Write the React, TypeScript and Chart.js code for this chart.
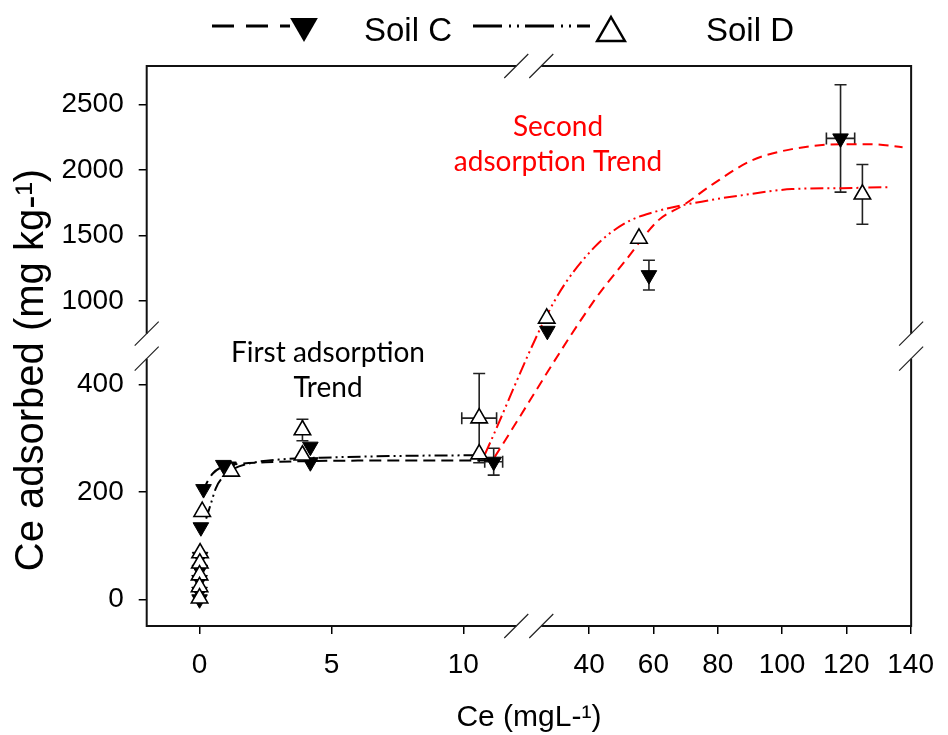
import React, { useEffect, useRef } from "react";
import { Chart, registerables } from "chart.js";

Chart.register(...registerables);

// ---------- axis ticks ----------
const xTickValues = [0, 5, 10, 40, 60, 80, 100, 120, 140];
const yTickValues = [0, 200, 400, 1000, 1500, 2000, 2500];

// ---------- Soil C measurements (filled, point-down triangles) ----------
const soilCX = [0.15, 0.05, 0.02, 0.01, 0.0, 0.0, 0.0, 0.9, 1.1, 4.2, 4.2, 11.15, 27.0, 58.6, 118.2];
const soilCY = [205, 134, 79, 55, 36, 14, 0, 250, 247, 284, 255, 256, 771, 1196, 2240];
const soilCYErr = [0, 0, 0, 0, 0, 0, 0, 0, 0, 0, 0, 25, 0, 114, 410];
const soilCXErr = [0, 0, 0, 0, 0, 0, 0, 0, 0, 0, 0, 0.34, 0, 0, 4.4];

// ---------- Soil D measurements (open triangles) ----------
const soilDX = [0.1, 0.02, 0.01, 0.0, 0.0, 0.0, 1.2, 3.9, 3.9, 10.6, 10.6, 26.8, 55.5, 125];
const soilDY = [163, 86, 67, 45, 23, 2, 238, 315, 268, 337, 270, 866, 1476, 1813];
const soilDYErr = [0, 0, 0, 0, 0, 0, 0, 20, 0, 83, 0, 0, 0, 228];
const soilDXErr = [0, 0, 0, 0, 0, 0, 0, 0, 0, 0.66, 0, 0, 0, 0];

// ---------- fitted trends ----------
const fitC1X = [0.12, 0.3, 0.5, 0.85, 1.5, 2.5, 4, 6, 8, 10, 11.15];
const fitC1Y = [200, 219, 234, 246, 252, 255, 257, 258, 258, 258, 258];
const fitD1X = [0.25, 0.43, 0.62, 0.9, 1.3, 2, 3, 5, 8, 10.6];
const fitD1Y = [150, 178, 207, 228, 243, 254, 260, 264, 267, 268];
const fitC2X = [11.19, 41.66, 50.9, 61.6, 69.3, 78.5, 90.8, 103.1, 118.5, 127.7, 137.5];
const fitC2Y = [265, 1005, 1295, 1616, 1730, 1891, 2074, 2158, 2196, 2196, 2173];
const fitD2X = [10.82, 29.37, 41.66, 51.8, 60.1, 72.4, 87.8, 103.1, 118.5, 133.3];
const fitD2Y = [270, 1005, 1410, 1601, 1677, 1746, 1807, 1853, 1860, 1868];

// ---------- broken-axis mapping ----------
const X_LOW_END = 12.48;
const X_HIGH_START = 21.22;
const X_HIGH_SCALE = 0.12187;
const Y_LOW_END = 471;
const Y_HIGH_START = 654;
const Y_HIGH_SCALE = 0.2437;

const mapX = (x: number) =>
  x <= X_LOW_END ? x : x >= X_HIGH_START ? X_LOW_END + (x - X_HIGH_START) * X_HIGH_SCALE : X_LOW_END;
const mapY = (y: number) =>
  y <= Y_LOW_END ? y : y >= Y_HIGH_START ? Y_LOW_END + (y - Y_HIGH_START) * Y_HIGH_SCALE : Y_LOW_END;

const toPoints = (xs: number[], ys: number[]) => xs.map((x, i) => ({ x: mapX(x), y: mapY(ys[i]) }));

const TICK_FONT = { family: '"Liberation Sans Narrow", "Liberation Sans", Arial, sans-serif', size: 28 };
const TITLE_FONT = { family: '"Liberation Sans", Arial, sans-serif', size: 30, lineHeight: 1 };
const Y_TITLE_FONT = '40px "Liberation Sans", Arial, sans-serif';
const NOTE_FONT = "28px Lato, 'Open Sans', sans-serif";
const RED = "#ff0000";

function triangle(ctx: CanvasRenderingContext2D, cx: number, cy: number, r: number, down: boolean) {
  const s = down ? -1 : 1;
  ctx.beginPath();
  ctx.moveTo(cx, cy - s * r);
  ctx.lineTo(cx + r * 0.866, cy + s * r * 0.5);
  ctx.lineTo(cx - r * 0.866, cy + s * r * 0.5);
  ctx.closePath();
}

const errorBarPlugin = {
  id: "errorBars",
  beforeDatasetsDraw(chart: any) {
    const { ctx, scales } = chart;
    const xs = scales.x;
    const ys = scales.y;
    const groups = [
      [soilCX, soilCY, soilCXErr, soilCYErr],
      [soilDX, soilDY, soilDXErr, soilDYErr],
    ];
    ctx.save();
    ctx.strokeStyle = "#222";
    ctx.lineWidth = 1.6;
    for (const [gx, gy, ex, ey] of groups) {
      gx.forEach((xv: number, i: number) => {
        const yv = gy[i];
        const px = xs.getPixelForValue(mapX(xv));
        const py = ys.getPixelForValue(mapY(yv));
        if (ey[i] > 0) {
          const t = ys.getPixelForValue(mapY(yv + ey[i]));
          const b = ys.getPixelForValue(mapY(yv - ey[i]));
          ctx.beginPath();
          ctx.moveTo(px, t);
          ctx.lineTo(px, b);
          ctx.moveTo(px - 6, t);
          ctx.lineTo(px + 6, t);
          ctx.moveTo(px - 6, b);
          ctx.lineTo(px + 6, b);
          ctx.stroke();
        }
        if (ex[i] > 0) {
          const l = xs.getPixelForValue(mapX(xv - ex[i]));
          const r = xs.getPixelForValue(mapX(xv + ex[i]));
          ctx.beginPath();
          ctx.moveTo(l, py);
          ctx.lineTo(r, py);
          ctx.moveTo(l, py - 6);
          ctx.lineTo(l, py + 6);
          ctx.moveTo(r, py - 6);
          ctx.lineTo(r, py + 6);
          ctx.stroke();
        }
      });
    }
    ctx.restore();
  },
};

const framePlugin = {
  id: "brokenFrame",
  afterDraw(chart: any) {
    const { ctx, chartArea: a, scales } = chart;
    const bx = scales.x.getPixelForValue(X_LOW_END);
    const by = scales.y.getPixelForValue(Y_LOW_END);
    const g = 12.5;
    ctx.save();
    ctx.strokeStyle = "#111";
    ctx.lineWidth = 2;
    ctx.lineCap = "butt";
    ctx.beginPath();
    // horizontal edges
    for (const yy of [a.top, a.bottom]) {
      ctx.moveTo(a.left - 1, yy);
      ctx.lineTo(bx - g, yy);
      ctx.moveTo(bx + g, yy);
      ctx.lineTo(a.right + 1, yy);
    }
    // vertical edges
    for (const xx of [a.left, a.right]) {
      ctx.moveTo(xx, a.top);
      ctx.lineTo(xx, by - g);
      ctx.moveTo(xx, by + g);
      ctx.lineTo(xx, a.bottom);
    }
    ctx.stroke();
    // break slashes
    ctx.lineWidth = 1.2;
    ctx.strokeStyle = "#222";
    ctx.beginPath();
    const slash = (cx: number, cy: number) => {
      ctx.moveTo(cx - 12, cy + 12);
      ctx.lineTo(cx + 12, cy - 12);
    };
    for (const yy of [a.top, a.bottom]) {
      slash(bx - g, yy);
      slash(bx + g, yy);
    }
    for (const xx of [a.left, a.right]) {
      slash(xx, by - g);
      slash(xx, by + g);
    }
    ctx.stroke();
    ctx.restore();
  },
};

const notesPlugin = {
  id: "notesAndLegend",
  afterDraw(chart: any) {
    const { ctx } = chart;
    ctx.save();
    // y axis title
    ctx.save();
    ctx.translate(32, 370);
    ctx.rotate(-Math.PI / 2);
    ctx.font = Y_TITLE_FONT;
    ctx.fillStyle = "#000";
    ctx.textAlign = "center";
    ctx.textBaseline = "middle";
    ctx.fillText("Ce adsorbed (mg kg-¹)", 0, 0);
    ctx.restore();

    // trend notes
    ctx.font = NOTE_FONT;
    ctx.textAlign = "center";
    ctx.textBaseline = "middle";
    ctx.fillStyle = "#000";
    ctx.fillText("First adsorption", 328, 353);
    ctx.fillText("Trend", 328, 388);
    ctx.fillStyle = RED;
    ctx.fillText("Second", 558, 127);
    ctx.fillText("adsorption Trend", 558, 162);

    // legend
    const ly = 26;
    ctx.strokeStyle = "#000";
    ctx.fillStyle = "#000";
    ctx.lineWidth = 3;
    ctx.beginPath();
    ctx.setLineDash([22, 12]);
    ctx.moveTo(212, ly);
    ctx.lineTo(290, ly);
    ctx.stroke();
    ctx.setLineDash([29, 7, 2, 6, 2, 6]);
    ctx.beginPath();
    ctx.moveTo(473, ly);
    ctx.lineTo(590, ly);
    ctx.stroke();
    ctx.setLineDash([]);
    triangle(ctx, 304, 26, 16, true);
    ctx.fill();
    triangle(ctx, 611, 33, 16, false);
    ctx.fillStyle = "#fff";
    ctx.fill();
    ctx.lineWidth = 2.5;
    ctx.stroke();
    ctx.fillStyle = "#000";
    ctx.font = '33px "Liberation Sans", Arial, sans-serif';
    ctx.textAlign = "left";
    ctx.textBaseline = "alphabetic";
    ctx.fillText("Soil C", 364, 41);
    ctx.fillText("Soil D", 706, 41);
    ctx.restore();
  },
};

export default function App() {
  const canvasRef = useRef<HTMLCanvasElement | null>(null);

  useEffect(() => {
    if (!canvasRef.current) return;
    const fitLine = (xs: number[], ys: number[], color: string, dash: number[]) => ({
      type: "line" as const,
      data: toPoints(xs, ys),
      borderColor: color,
      borderWidth: 2,
      borderDash: dash,
      pointRadius: 0,
      fill: false,
      cubicInterpolationMode: "monotone" as const,
    });
    const dashC = [12, 6];
    const dashD = [13, 4, 2, 4, 2, 4];

    const chart = new Chart(canvasRef.current, {
      type: "scatter",
      data: {
        datasets: [
          {
            label: "Soil D",
            data: toPoints(soilDX, soilDY),
            pointStyle: "triangle",
            pointRadius: 9.5,
            backgroundColor: "#fff",
            borderColor: "#000",
            borderWidth: 1.6,
          },
          {
            label: "Soil C",
            data: toPoints(soilCX, soilCY),
            pointStyle: "triangle",
            pointRotation: 180,
            pointRadius: 9,
            backgroundColor: "#000",
            borderColor: "#000",
            borderWidth: 1,
          },
          fitLine(fitC1X, fitC1Y, "#000", dashC),
          fitLine(fitD1X, fitD1Y, "#000", dashD),
          fitLine(fitC2X, fitC2Y, RED, [10, 6]),
          fitLine(fitD2X, fitD2Y, RED, dashD),
        ] as any,
      },
      options: {
        responsive: false,
        animation: false,
        events: [],
        layout: { padding: { left: 0, top: 66, right: 27.3, bottom: 0 } },
        plugins: { legend: { display: false }, tooltip: { enabled: false } },
        scales: {
          x: {
            type: "linear",
            min: -2.004,
            max: 26.975,
            afterBuildTicks: (s: any) => {
              s.ticks = xTickValues.map((v) => ({ value: mapX(v) }));
            },
            afterFit: (s: any) => {
              s.height = 109;
            },
            grid: { display: true, drawOnChartArea: false, drawTicks: true, tickLength: 8, color: "#000", lineWidth: 1.5 },
            border: { display: false },
            ticks: {
              autoSkip: false,
              maxRotation: 0,
              padding: 14,
              color: "#000",
              font: TICK_FONT,
              callback: (_v: any, i: number) => String(xTickValues[i]),
            },
            title: { display: true, text: "Ce (mgL-¹)", color: "#000", font: TITLE_FONT, padding: { top: 0, bottom: 2 } },
          },
          y: {
            type: "linear",
            min: -49.7,
            max: 992.2,
            afterBuildTicks: (s: any) => {
              s.ticks = yTickValues.map((v) => ({ value: mapY(v) }));
            },
            afterFit: (s: any) => {
              s.width = 146.7;
            },
            grid: { display: true, drawOnChartArea: false, drawTicks: true, tickLength: 8, color: "#000", lineWidth: 1.5 },
            border: { display: false },
            ticks: {
              autoSkip: false,
              padding: 15,
              color: "#000",
              font: TICK_FONT,
              callback: (_v: any, i: number) => String(yTickValues[i]),
            },
          },
        },
      } as any,
      plugins: [errorBarPlugin, framePlugin, notesPlugin],
    });
    return () => chart.destroy();
  }, []);

  return (
    <div style={{ position: "absolute", left: 0, top: 0, width: 948, height: 735, background: "#fff" }}>
      <canvas ref={canvasRef} width={948} height={735} />
    </div>
  );
}
